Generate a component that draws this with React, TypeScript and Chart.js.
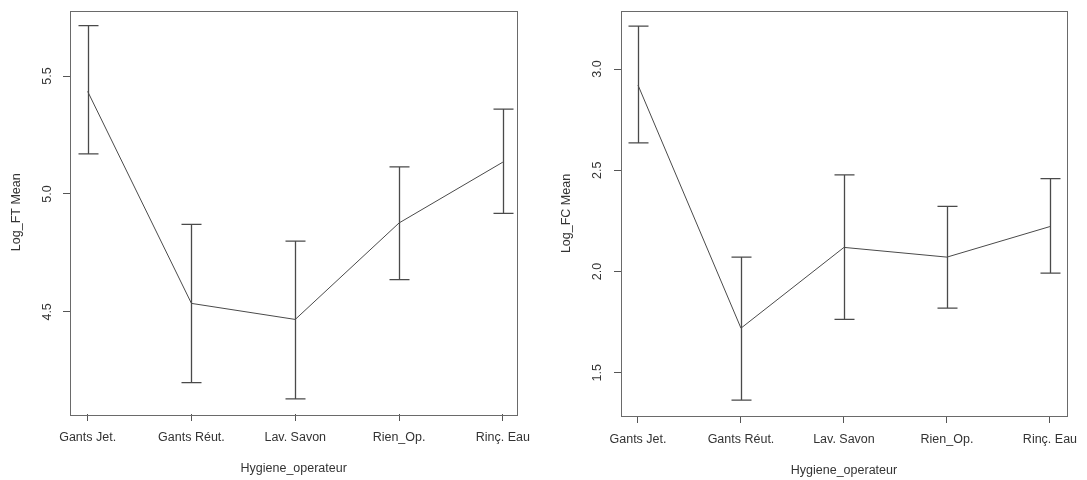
import React, { useEffect, useRef } from "react";
import { Chart, registerables } from "chart.js";

Chart.register(...registerables);

const categories = ["Gants Jet.", "Gants Réut.", "Lav. Savon", "Rien_Op.", "Rinç. Eau"];
const ftMean = [5.435, 4.536, 4.468, 4.877, 5.135];
const ftLower = [5.17, 4.2, 4.131, 4.637, 4.918];
const ftUpper = [5.714, 4.871, 4.8, 5.115, 5.36];
const fcMean = [2.921, 1.72, 2.119, 2.071, 2.222];
const fcLower = [2.635, 1.364, 1.763, 1.819, 1.992];
const fcUpper = [3.212, 2.071, 2.477, 2.322, 2.459];
const ftTicks = [4.5, 5.0, 5.5];
const fcTicks = [1.5, 2.0, 2.5, 3.0];
const xTitle = "Hygiene_operateur";
const ftTitle = "Log_FT Mean";
const fcTitle = "Log_FC Mean";

const FONT = "'Liberation Sans', Arial, Helvetica, sans-serif";
const TEXT = "#333333";
const LINE = "#4a4a4a";

type PanelSpec = {
  width: number;
  height: number;
  mean: number[];
  lower: number[];
  upper: number[];
  yTicks: number[];
  yTitle: string;
  yMin: number;
  yMax: number;
  xMin: number;
  xMax: number;
  padTop: number;
  padRight: number;
  yWidth: number;
  xHeight: number;
  yTitlePad: number;
  xTitlePad: number;
  yLabelGap: number;
};

function makeConfig(p: PanelSpec): any {
  const errorBars = {
    id: "errorBars",
    afterDatasetsDraw(chart: any) {
      const { ctx } = chart;
      const xs = chart.scales.x;
      const ys = chart.scales.y;
      ctx.save();
      ctx.strokeStyle = LINE;
      ctx.lineWidth = 1.3;
      const cap = 10;
      p.mean.forEach((_, i) => {
        const x = Math.round(xs.getPixelForValue(i)) + 0.5;
        const yl = ys.getPixelForValue(p.lower[i]);
        const yu = ys.getPixelForValue(p.upper[i]);
        ctx.beginPath();
        ctx.moveTo(x, yu);
        ctx.lineTo(x, yl);
        ctx.moveTo(x - cap, yu);
        ctx.lineTo(x + cap, yu);
        ctx.moveTo(x - cap, yl);
        ctx.lineTo(x + cap, yl);
        ctx.stroke();
      });
      ctx.restore();
    },
  };
  const frame = {
    id: "frame",
    afterDraw(chart: any) {
      const { ctx, chartArea } = chart;
      ctx.save();
      ctx.strokeStyle = "#6a6a6a";
      ctx.lineWidth = 1;
      ctx.strokeRect(
        Math.round(chartArea.left) + 0.5,
        Math.round(chartArea.top) + 0.5,
        Math.round(chartArea.right - chartArea.left),
        Math.round(chartArea.bottom - chartArea.top)
      );
      // rotated y tick labels
      const ys = chart.scales.y;
      ctx.fillStyle = TEXT;
      ctx.font = `12.5px ${FONT}`;
      ctx.textAlign = "center";
      ctx.textBaseline = "middle";
      ys.ticks.forEach((t: any) => {
        const y = ys.getPixelForValue(t.value);
        ctx.save();
        ctx.translate(chartArea.left - p.yLabelGap, y);
        ctx.rotate(-Math.PI / 2);
        ctx.fillText(Number(t.value).toFixed(1), 0, 0);
        ctx.restore();
      });
      ctx.restore();
    },
  };

  return {
    type: "line",
    data: {
      datasets: [
        {
          data: p.mean.map((v, i) => ({ x: i, y: v })),
          borderColor: LINE,
          borderWidth: 1,
          pointRadius: 0,
          tension: 0,
        },
      ],
    },
    options: {
      responsive: false,
      animation: false,
      layout: { padding: { top: p.padTop, right: p.padRight, left: 0, bottom: 0 } },
      plugins: { legend: { display: false }, tooltip: { enabled: false } },
      scales: {
        x: {
          type: "linear",
          min: p.xMin,
          max: p.xMax,
          afterBuildTicks: (s: any) => {
            s.ticks = categories.map((_, i) => ({ value: i }));
          },
          afterFit: (s: any) => {
            s.height = p.xHeight;
          },
          grid: { drawOnChartArea: false, drawTicks: true, tickLength: 7, color: "#555", lineWidth: 1 },
          border: { display: false },
          ticks: {
            autoSkip: false,
            maxRotation: 0,
            minRotation: 0,
            padding: 9.5,
            color: TEXT,
            font: { family: FONT, size: 12.5 },
            callback: (v: any) => categories[v] ?? "",
          },
          title: {
            display: true,
            text: xTitle,
            color: TEXT,
            font: { family: FONT, size: 12.5 },
            padding: { top: 0, bottom: p.xTitlePad },
          },
        },
        y: {
          type: "linear",
          min: p.yMin,
          max: p.yMax,
          afterBuildTicks: (s: any) => {
            s.ticks = p.yTicks.map((v) => ({ value: v }));
          },
          afterFit: (s: any) => {
            s.width = p.yWidth;
          },
          grid: { drawOnChartArea: false, drawTicks: true, tickLength: 7, color: "#555", lineWidth: 1 },
          border: { display: false },
          ticks: { color: "rgba(0,0,0,0)", font: { family: FONT, size: 12.5 } },
          title: {
            display: true,
            text: p.yTitle,
            color: TEXT,
            font: { family: FONT, size: 12.5 },
            padding: { top: p.yTitlePad, bottom: 0 },
          },
        },
      },
    },
    plugins: [errorBars, frame],
  };
}

function Panel({ spec, left }: { spec: PanelSpec; left: number }) {
  const ref = useRef<HTMLCanvasElement | null>(null);
  useEffect(() => {
    if (!ref.current) return;
    const chart = new Chart(ref.current, makeConfig(spec));
    return () => chart.destroy();
  }, []);
  return (
    <canvas
      ref={ref}
      width={spec.width}
      height={spec.height}
      style={{ position: "absolute", left, top: 0, width: spec.width, height: spec.height }}
    />
  );
}

const leftSpec: PanelSpec = {
  width: 540,
  height: 480,
  mean: ftMean,
  lower: ftLower,
  upper: ftUpper,
  yTicks: ftTicks,
  yTitle: ftTitle,
  yMin: 4.067,
  yMax: 5.778,
  xMin: -0.17,
  xMax: 4.14,
  padTop: 10,
  padRight: 17,
  yWidth: 70,
  xHeight: 66,
  yTitlePad: 9.5,
  xTitlePad: 3.5,
  yLabelGap: 22,
};

const rightSpec: PanelSpec = {
  width: 547,
  height: 480,
  mean: fcMean,
  lower: fcLower,
  upper: fcUpper,
  yTicks: fcTicks,
  yTitle: fcTitle,
  yMin: 1.286,
  yMax: 3.287,
  xMin: -0.165,
  xMax: 4.165,
  padTop: 11,
  padRight: 12,
  yWidth: 81,
  xHeight: 64,
  yTitlePad: 19.5,
  xTitlePad: 1.5,
  yLabelGap: 23,
};

export default function App() {
  return (
    <div style={{ position: "absolute", left: 0, top: 0, width: 1087, height: 480, background: "#fff" }}>
      <Panel spec={leftSpec} left={0} />
      <Panel spec={rightSpec} left={540} />
    </div>
  );
}
